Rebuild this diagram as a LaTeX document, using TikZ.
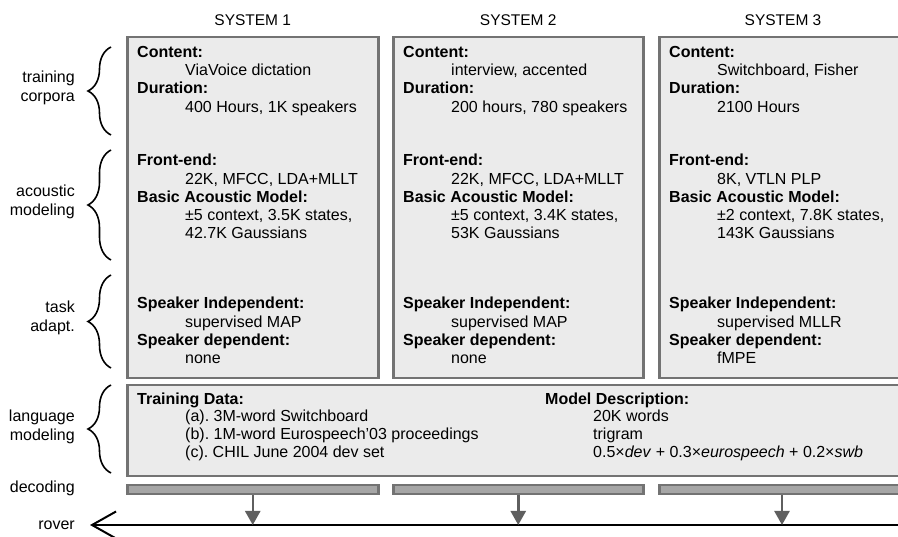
\documentclass[tikz,border=0pt]{standalone}
\usepackage{fontspec}
\setmainfont{Liberation Sans}
\usetikzlibrary{arrows.meta,decorations.pathreplacing,positioning}
\definecolor{boxgray}{HTML}{EBEBEB}
\definecolor{edgegray}{HTML}{737373}
\definecolor{bargray}{HTML}{A6A6A6}
\definecolor{arrgray}{HTML}{5F5F5F}
\newcommand\indt{\hspace*{48pt}}
\tikzset{
	sysbox/.style={draw=edgegray, fill=boxgray, line width=2.5pt, anchor=north west, inner sep=0pt},
	decbar/.style={draw=edgegray, fill=bargray, line width=2.5pt, anchor=north west, inner sep=0pt, minimum height=9pt},
	txt/.style={anchor=north west, inner sep=0pt, align=left, font=\fontsize{16}{18.3}\selectfont},
	lbl/.style={anchor=east, inner sep=0pt, align=right, font=\fontsize{16}{18.3}\selectfont},
	hdr/.style={inner sep=0pt, font=\fontsize{15.5}{17}\selectfont},
	chave/.style={decorate, decoration={brace, amplitude=23pt}, line width=1.6pt},
	seta/.style={draw=arrgray, line width=2.5pt, -{Triangle[length=14pt,width=15pt,fill=arrgray]}},
}
\begin{document}
\begin{tikzpicture}[x=1pt,y=-1pt]
		\useasboundingbox (0,0) rectangle (898,537);
		\clip (0,0) rectangle (898,537);
		% as caixas dos sistemas
			\node[sysbox, minimum width=251, minimum height=341] (sys1) at (126,36) {};
			\node[sysbox, minimum width=250, minimum height=341] (sys2) at (392,36) {};
			\node[sysbox, minimum width=262, minimum height=341] (sys3) at (658,36) {};
			\node[sysbox, minimum width=792, minimum height=91] (lang) at (126,384) {};
			\node[hdr, above=10pt of sys1] (hd1) {SYSTEM 1};
			\node[hdr, above=10pt of sys2] (hd2) {SYSTEM 2};
			\node[hdr, above=10pt of sys3.north west, xshift=125pt] (hd3) {SYSTEM 3};

		% os textos de cada sistema
			\node[txt] (cont1) at (137,46) {\textbf{Content:}\\\indt ViaVoice dictation\\\textbf{Duration:}\\\indt 400 Hours, 1K speakers};
			\node[txt] (acou1) at (137,154) {\textbf{Front-end:}\\\indt 22K, MFCC, LDA+MLLT\\\textbf{Basic Acoustic Model:}\\\indt ±5 context, 3.5K states,\\\indt 42.7K Gaussians};
			\node[txt] (adap1) at (137,297) {\textbf{Speaker Independent:}\\\indt supervised MAP\\\textbf{Speaker dependent:}\\\indt none};
			\node[txt] (cont2) at (403,46) {\textbf{Content:}\\\indt interview, accented\\\textbf{Duration:}\\\indt 200 hours, 780 speakers};
			\node[txt] (acou2) at (403,154) {\textbf{Front-end:}\\\indt 22K, MFCC, LDA+MLLT\\\textbf{Basic Acoustic Model:}\\\indt ±5 context, 3.4K states,\\\indt 53K Gaussians};
			\node[txt] (adap2) at (403,297) {\textbf{Speaker Independent:}\\\indt supervised MAP\\\textbf{Speaker dependent:}\\\indt none};
			\node[txt] (cont3) at (669,46) {\textbf{Content:}\\\indt Switchboard, Fisher\\\textbf{Duration:}\\\indt 2100 Hours};
			\node[txt] (acou3) at (669,154) {\textbf{Front-end:}\\\indt 8K, VTLN PLP\\\textbf{Basic Acoustic Model:}\\\indt ±2 context, 7.8K states,\\\indt 143K Gaussians};
			\node[txt] (adap3) at (669,297) {\textbf{Speaker Independent:}\\\indt supervised MLLR\\\textbf{Speaker dependent:}\\\indt fMPE};

		% o modelo de linguagem
			\node[txt, font=\fontsize{16}{17.6}\selectfont] (ltrain) at (137,392.5) {\textbf{Training Data:}\\\indt (a).\ 3M-word Switchboard\\\indt (b).\ 1M-word Eurospeech'03 proceedings\\\indt (c).\ CHIL June 2004 dev set};
			\node[txt, font=\fontsize{16}{17.6}\selectfont] (lmodel) at (545,392.5) {\textbf{Model Description:}\\\indt 20K words\\\indt trigram\\\indt 0.5×\textit{dev} + 0.3×\textit{eurospeech} + 0.2×\textit{swb}};

		% as chaves e os rotulos
			\draw[chave] (111,135) -- (111,47);
			\draw[chave] (111,260) -- (111,150);
			\draw[chave] (111,368) -- (111,275);
			\draw[chave] (111,473) -- (111,385);
			\node[lbl] (l1) at (75,88) {training\\corpora};
			\node[lbl] (l2) at (75,202) {acoustic\\modeling};
			\node[lbl] (l3) at (75,318) {task\\adapt.};
			\node[lbl] (l4) at (75,427) {language\\modeling};
			\node[lbl] (l5) at (75,488) {decoding};
			\node[lbl] (l6) at (75,525) {rover};

		% decodificacao e rover
			\node[decbar, minimum width=251] (dec1) at (126,484) {};
			\node[decbar, minimum width=250] (dec2) at (392,484) {};
			\node[decbar, minimum width=262] (dec3) at (658,484) {};
			\coordinate (roverL) at (90,525);
			\coordinate (roverR) at (910,525);
			\draw[line width=2pt, -{Straight Barb[length=24pt,width=27pt]}] (roverR) -- (roverL);
			\draw[seta] (dec1.south) -- (dec1.south |- roverL);
			\draw[seta] (dec2.south) -- (dec2.south |- roverL);
			\draw[seta] (dec3.south -| 782,0) -- (782,525);
	\end{tikzpicture}
\end{document}
